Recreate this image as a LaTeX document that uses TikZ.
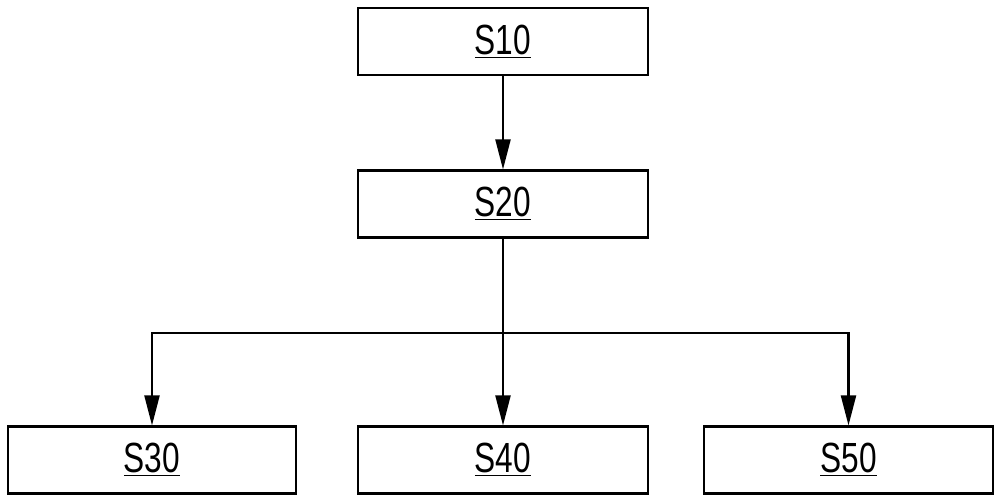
\documentclass[tikz,border=0pt]{standalone}
\usepackage{fontspec}
\setmainfont[FakeStretch=0.75]{Liberation Sans}
\usetikzlibrary{arrows.meta}
\def\Lx{3.04}
\def\Mx{10.06}
\def\Rx{16.97}
\def\By{3.4}
\begin{document}
\begin{tikzpicture}[very thick, stepbox/.style={draw, minimum width=5.8cm, minimum height=1.34cm, inner sep=0pt, font=\fontsize{24}{28}\selectfont}]
    \useasboundingbox (0,0) rectangle (20,10.06);
    \node[stepbox] (S10) at (\Mx,9.23) {\underline{S10}};
    \node[stepbox] (S20) at (\Mx,5.98) {\underline{S20}};
    \node[stepbox, minimum width=5.76cm] (S30) at (\Lx,0.86) {\underline{S30}};
    \node[stepbox] (S40) at (\Mx,0.86) {\underline{S40}};
    \node[stepbox, minimum width=5.78cm] (S50) at (\Rx,0.86) {\underline{S50}};
    \coordinate (branch) at (\Mx,\By);

    \draw[-{Triangle[length=0.6cm,width=0.3cm]}] (S10) -- (S20);
    \draw[-{Triangle[length=0.6cm,width=0.3cm]}] (S20) -- (S40);
    \draw[-{Triangle[length=0.6cm,width=0.3cm]}] (branch) -| (S30);
    \draw[-{Triangle[length=0.6cm,width=0.3cm]}] (branch) -| (S50);
\end{tikzpicture}
\end{document}
